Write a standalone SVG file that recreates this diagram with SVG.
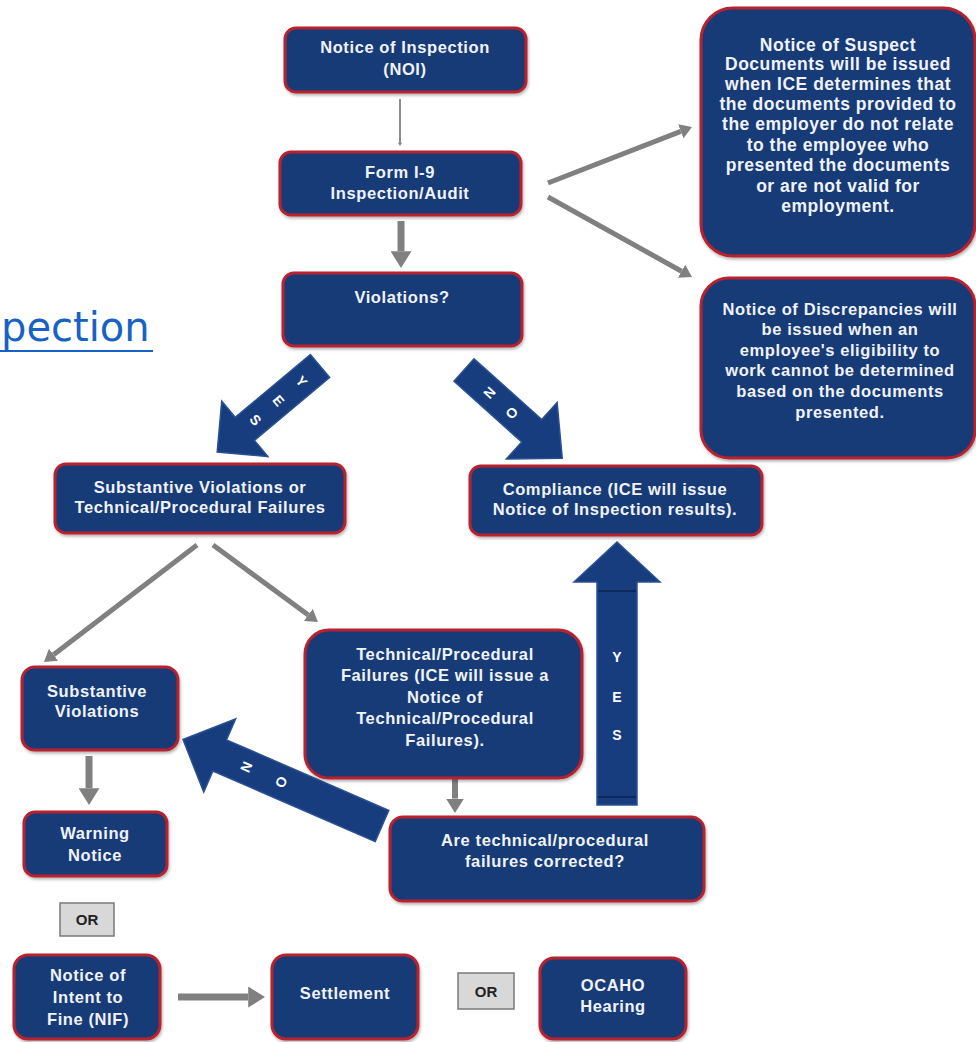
<svg xmlns="http://www.w3.org/2000/svg" width="976" height="1042" viewBox="0 0 976 1042">
<defs>
<style>
.box{fill:#173b76;stroke:#b8202e;stroke-width:3;filter:url(#sh);}
.t{font-family:"Liberation Sans",Arial,sans-serif;font-weight:bold;font-size:16.5px;letter-spacing:0.6px;fill:#f1f2f8;text-anchor:middle;}
.tl{font-size:17.5px;letter-spacing:0.5px;}
.ga{fill:none;stroke:#808080;marker-end:url(#ah);}
.blk{fill:#173d7e;stroke:#2c5192;stroke-width:1.5;}
.al{font-family:"Liberation Sans",Arial,sans-serif;font-weight:bold;font-size:14px;fill:#ffffff;text-anchor:middle;dominant-baseline:central;}
.or{fill:#d8d8d8;stroke:#7a7a7a;stroke-width:1.5;}
.ort{font-family:"Liberation Sans",Arial,sans-serif;font-weight:bold;font-size:15px;fill:#222222;text-anchor:middle;}
.link{font-family:"DejaVu Sans",Verdana,sans-serif;font-size:40px;fill:#1762c4;}
</style>
<marker id="ah" viewBox="0 0 8 10" refX="0" refY="5" markerWidth="2.4" markerHeight="3" orient="auto"><path d="M0,0 L8,5 L0,10 z" fill="#808080"/></marker>
<filter id="sh" x="-10%" y="-10%" width="120%" height="130%"><feDropShadow dx="1" dy="2" stdDeviation="1.5" flood-color="#000000" flood-opacity="0.3"/></filter>
</defs>
<rect width="976" height="1042" fill="#ffffff"/>

<g id="link">
<text class="link" x="1" y="341">pection</text>
<line x1="0" y1="351" x2="153" y2="351" stroke="#1762c4" stroke-width="2"/>
</g>

<g id="connectors">
<line class="ga" x1="400" y1="99" x2="400" y2="142.4" stroke-width="1.5" style="stroke:#666"/>
<line class="ga" x1="401" y1="221" x2="401" y2="251.2" stroke-width="7"/>
<line class="ga" x1="548" y1="183" x2="680.8" y2="131.3" stroke-width="5"/>
<line class="ga" x1="548" y1="197" x2="681.5" y2="271.2" stroke-width="5"/>
<line class="ga" x1="197" y1="545" x2="53.5" y2="654.7" stroke-width="5"/>
<line class="ga" x1="213" y1="545" x2="308.3" y2="614.9" stroke-width="5"/>
<line class="ga" x1="89" y1="756" x2="89" y2="788.2" stroke-width="7"/>
<line class="ga" x1="455" y1="770" x2="455" y2="798.6" stroke-width="6"/>
<line class="ga" x1="178" y1="997" x2="248.2" y2="997" stroke-width="7"/>

<g id="arrow-yes1" transform="translate(320,366) rotate(140.1)">
<polygon class="blk" points="0,-15 98,-15 98,-36 134,0 98,36 98,15 0,15"/>
<text class="al" transform="translate(24,0) rotate(-90)">Y</text>
<text class="al" transform="translate(54,0) rotate(-90)">E</text>
<text class="al" transform="translate(84,0) rotate(-90)">S</text>
</g>
<g id="arrow-no1" transform="translate(464,370) rotate(41.9)">
<polygon class="blk" points="0,-15 91,-15 91,-38 132,0 91,38 91,15 0,15"/>
<text class="al" transform="translate(34,0) rotate(-90)">N</text>
<text class="al" transform="translate(64,0) rotate(-90)">O</text>
</g>
<g id="arrow-no2" transform="translate(382,826) rotate(203.5)">
<polygon class="blk" points="0,-17 177,-17 177,-40 217,0 177,40 177,17 0,17"/>
<text class="al" transform="translate(148,0) rotate(90)">N</text>
<text class="al" transform="translate(110,0) rotate(90)">O</text>
</g>
<g id="arrow-yes2">
<polygon class="blk" points="597,805 597,582 574,582 617,542 660,582 637,582 637,805"/>
<line x1="598" y1="591" x2="636" y2="591" stroke="#0e2a5c" stroke-width="2"/>
<line x1="598" y1="797" x2="636" y2="797" stroke="#0e2a5c" stroke-width="2"/>
<text class="al" x="617" y="657">Y</text>
<text class="al" x="617" y="697">E</text>
<text class="al" x="617" y="735">S</text>
</g>
</g>

<g id="noi">
<rect class="box" x="285" y="28" width="241" height="64" rx="11"/>
<text class="t" x="405" y="53">Notice of Inspection</text>
<text class="t" x="405" y="75">(NOI)</text>
</g>
<g id="form-i9">
<rect class="box" x="280" y="152" width="241" height="63" rx="11"/>
<text class="t" x="400" y="178">Form I-9</text>
<text class="t" x="400" y="199">Inspection/Audit</text>
</g>
<g id="violations">
<rect class="box" x="283" y="273" width="239" height="73" rx="11"/>
<text class="t" x="402" y="303">Violations?</text>
</g>
<g id="suspect">
<rect class="box" x="701" y="8" width="274" height="248" rx="32"/>
<text class="t tl" x="838" y="51">Notice of Suspect</text>
<text class="t tl" x="838" y="70">Documents will be issued</text>
<text class="t tl" x="838" y="90">when ICE determines that</text>
<text class="t tl" x="838" y="110">the documents provided to</text>
<text class="t tl" x="838" y="130">the employer do not relate</text>
<text class="t tl" x="838" y="151">to the employee who</text>
<text class="t tl" x="838" y="171">presented the documents</text>
<text class="t tl" x="838" y="192">or are not valid for</text>
<text class="t tl" x="838" y="212">employment.</text>
</g>
<g id="discrepancies">
<rect class="box" x="701" y="278" width="274" height="180" rx="28"/>
<text class="t" x="840" y="315">Notice of Discrepancies will</text>
<text class="t" x="840" y="335">be issued when an</text>
<text class="t" x="840" y="356">employee's eligibility to</text>
<text class="t" x="840" y="376">work cannot be determined</text>
<text class="t" x="840" y="397">based on the documents</text>
<text class="t" x="840" y="418">presented.</text>
</g>
<g id="sub-or-tech">
<rect class="box" x="55" y="464" width="290" height="69" rx="11"/>
<text class="t" x="200" y="493">Substantive Violations or</text>
<text class="t" x="200" y="513">Technical/Procedural  Failures</text>
</g>
<g id="compliance">
<rect class="box" x="470" y="466" width="292" height="69" rx="11"/>
<text class="t" x="615" y="495">Compliance (ICE will issue</text>
<text class="t" x="615" y="515">Notice of Inspection results).</text>
</g>
<g id="substantive">
<rect class="box" x="22" y="667" width="156" height="83" rx="13"/>
<text class="t" x="97" y="697">Substantive</text>
<text class="t" x="97" y="717">Violations</text>
</g>
<g id="technical">
<rect class="box" x="305" y="630" width="277" height="148" rx="24"/>
<text class="t" x="445" y="660">Technical/Procedural</text>
<text class="t" x="445" y="681">Failures (ICE will issue a</text>
<text class="t" x="445" y="703">Notice of</text>
<text class="t" x="445" y="724">Technical/Procedural</text>
<text class="t" x="445" y="746">Failures).</text>
</g>
<g id="warning">
<rect class="box" x="24" y="812" width="143" height="64" rx="11"/>
<text class="t" x="95" y="839">Warning</text>
<text class="t" x="95" y="861">Notice</text>
</g>
<g id="corrected">
<rect class="box" x="390" y="817" width="314" height="84" rx="13"/>
<text class="t" x="545" y="846">Are technical/procedural</text>
<text class="t" x="545" y="867">failures corrected?</text>
</g>
<g id="or1">
<rect class="or" x="60" y="903" width="54" height="33"/>
<text class="ort" x="87" y="925">OR</text>
</g>
<g id="nif">
<rect class="box" x="14" y="955" width="146" height="84" rx="14"/>
<text class="t" x="88" y="981">Notice of</text>
<text class="t" x="88" y="1003">Intent to</text>
<text class="t" x="88" y="1025">Fine (NIF)</text>
</g>
<g id="settlement">
<rect class="box" x="272" y="955" width="146" height="84" rx="14"/>
<text class="t" x="345" y="999">Settlement</text>
</g>
<g id="or2">
<rect class="or" x="458" y="973" width="56" height="36"/>
<text class="ort" x="486" y="997">OR</text>
</g>
<g id="ocaho">
<rect class="box" x="540" y="958" width="146" height="81" rx="14"/>
<text class="t" x="613" y="991">OCAHO</text>
<text class="t" x="613" y="1012">Hearing</text>
</g>
</svg>
